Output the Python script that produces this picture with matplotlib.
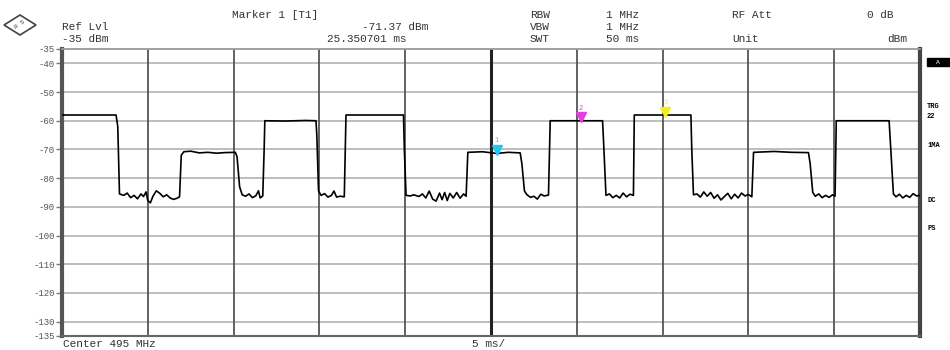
import matplotlib
matplotlib.use("Agg")
import matplotlib.pyplot as plt
from matplotlib.patches import Polygon

# sweep: 0..50 ms, 5 ms/div, ref level -35 dBm
sweep_ms = [0, 50]
ref_range = [-135, -35]
y_ticks = [-35, -40, -50, -60, -70, -80, -90, -100, -110, -120, -130, -135]

# trace (time in ms, level in dBm)
trace_t = [0, 3.15, 3.25, 3.35,
           3.6, 3.8, 4.0, 4.2, 4.4, 4.6, 4.75, 4.9, 5.0, 5.15, 5.3, 5.5, 5.7, 5.9, 6.1, 6.3, 6.5, 6.7, 6.85,
           6.95, 7.1, 7.5, 8.0, 8.5, 9.0, 9.5, 10.1, 10.2, 10.35, 10.5,
           10.7, 10.9, 11.1, 11.3, 11.45, 11.55, 11.7,
           11.78, 11.82, 13.0, 14.2, 14.8, 14.85, 14.95,
           15.1, 15.3, 15.5, 15.7, 15.85, 16.0, 16.2, 16.45,
           16.55, 19.9, 19.95, 20.05,
           20.3, 20.5, 20.8, 21.0, 21.2, 21.4, 21.6, 21.8, 22.0, 22.15, 22.3, 22.45, 22.6, 22.8, 23.0, 23.2, 23.4, 23.55,
           23.65, 24.5, 25.35, 26.0, 26.7, 26.8, 26.95,
           27.1, 27.3, 27.5, 27.7, 27.9, 28.1, 28.35,
           28.45, 31.5, 31.55, 31.7,
           31.9, 32.1, 32.3, 32.5, 32.7, 32.9, 33.1, 33.3,
           33.35, 36.65, 36.7, 36.8,
           37.0, 37.2, 37.4, 37.6, 37.8, 38.0, 38.2, 38.4, 38.6, 38.8, 39.0, 39.2, 39.4, 39.6, 39.8, 40.0, 40.2,
           40.3, 41.5, 42.5, 43.5, 43.6, 43.75,
           43.9, 44.1, 44.3, 44.5, 44.7, 44.9, 45.05,
           45.12, 48.2, 48.3, 48.45,
           48.6, 48.8, 49.0, 49.2, 49.4, 49.6, 49.8, 50.0]
trace_db = [-58.0, -58.0, -62, -85.5,
            -86.0, -85.2, -86.8, -86.0, -87.2, -85.5, -86.4, -84.8, -87.8, -88.6, -86.3, -84.4, -85.3, -86.5, -85.8, -86.9, -87.4, -87.0, -86.5,
            -72, -70.8, -70.6, -71.2, -71.0, -71.3, -71.1, -71.0, -72.5, -83, -85.8,
            -86.3, -85.5, -86.8, -86.1, -84.4, -86.9, -86.2,
            -70, -60.0, -60.1, -59.9, -60.0, -65, -84.5,
            -86.0, -85.4, -86.6, -86.0, -84.5, -86.6, -86.3, -86.5,
            -58.0, -58.0, -70, -86.0,
            -86.2, -85.8, -86.4, -85.5, -86.9, -84.5, -87.3, -88.0, -85.2, -87.5, -85.0, -87.8, -85.3, -86.9, -85.0, -87.0, -85.5, -86.3,
            -71.0, -70.8, -71.4, -71.0, -71.2, -75, -84.5,
            -85.8, -86.7, -86.3, -87.3, -85.6, -86.2, -85.9,
            -60.0, -60.0, -66, -86.0,
            -85.5, -86.8, -86.0, -86.9, -85.2, -86.5, -85.6, -86.0,
            -58.0, -58.0, -70, -85.8,
            -85.5, -86.6, -84.8, -86.3, -85.0, -87.0, -85.8, -87.6, -86.4, -85.3, -87.2, -85.6, -86.9, -85.2, -86.2, -85.7, -86.5,
            -71.0, -70.7, -71.0, -71.1, -75, -85.0,
            -86.3, -85.5, -86.8, -86.0, -86.7, -85.8, -86.3,
            -60.0, -60.0, -70, -85.5,
            -86.5, -85.6, -86.9, -86.0, -86.7, -85.4, -86.2, -86.0]

# markers
marker_names = ['1', '2', '3']
marker_t = [25.35, 30.25, 35.15]
marker_db = [-71.37, -60.0, -58.0]
marker_colors = ['#22c8f0', '#e040e0', '#f0f020']

mono = 'Liberation Mono'
txt = '#333333'

fig = plt.figure(figsize=(9.5, 3.5), dpi=100)
ax = fig.add_axes([62/950, 14/350, 858/950, 287/350])

# grid
for y in y_ticks[1:-1]:
    ax.axhline(y, color='#b8b8b8', lw=1.3, zorder=1)
for i in range(1, 10):
    x = i * 5
    if i == 5:
        ax.axvline(x, color='#222222', lw=2.2, zorder=1)
    else:
        ax.axvline(x, color='#555555', lw=1.3, zorder=1)

ax.plot(trace_t, trace_db, color='black', lw=1.2, zorder=3)

for n, t, d, c in zip(marker_names, marker_t, marker_db, marker_colors):
    ax.plot(t, d + 1.2, marker='v', ms=7, color=c, mec=c, zorder=4)
    ax.text(t, d + 3.2, n, color=c, fontsize=5, ha='center', va='bottom', family=mono, zorder=4)

ax.set_xlim(sweep_ms)
ax.set_ylim(ref_range)
ax.set_xticks([])
ax.set_yticks(y_ticks)
ax.set_yticklabels([str(v) for v in y_ticks], family=mono, fontsize=6.5, color='#555555')
ax.tick_params(axis='y', length=4, width=1, color='#777777', pad=1)

ax.spines['left'].set_linewidth(3)
ax.spines['left'].set_color('#555555')
ax.spines['right'].set_linewidth(3)
ax.spines['right'].set_color('#444444')
ax.spines['top'].set_linewidth(1.3)
ax.spines['top'].set_color('#999999')
ax.spines['bottom'].set_linewidth(1.5)
ax.spines['bottom'].set_color('#666666')

# header text
def ftext(x, y, s, **kw):
    fig.text(x / 950, 1 - y / 350, s, family=mono, fontsize=8, color=txt, va='center', **kw)

ftext(62, 27, 'Ref Lvl')
ftext(62, 39, '-35 dBm')
ftext(232, 15, 'Marker 1 [T1]')
ftext(362, 27, '-71.37 dBm')
ftext(327, 39, '25.350701 ms')
ftext(530, 15, 'RBW')
ftext(530, 27, 'VBW')
ftext(530, 39, 'SWT')
ftext(606, 15, '1 MHz')
ftext(606, 27, '1 MHz')
ftext(606, 39, '50 ms')
ftext(732, 15, 'RF Att')
ftext(732, 39, 'Unit')
ftext(867, 15, '0 dB')
ftext(887, 39, 'dBm')
ftext(63, 344, 'Center 495 MHz')
ftext(472, 344, '5 ms/')

# side labels
fig.patches.append(Polygon([[927/950, 1 - 58/350], [950/950, 1 - 58/350],
                            [950/950, 1 - 66/350], [927/950, 1 - 66/350]],
                           closed=True, transform=fig.transFigure, color='black'))
fig.text(938/950, 1 - 62/350, 'A', family=mono, fontsize=4.5, color='white', ha='center', va='center')
for y, s in [(107, 'TRG'), (117, '22'), (145, '1MA'), (200, 'DC'), (228, 'PS')]:
    fig.text(927/950, 1 - y/350, s, family=mono, fontsize=5, color='black', va='center', weight='bold')

# logo
cx, cy = 20, 25
logo = [[(cx - 16)/950, 1 - cy/350], [cx/950, 1 - (cy - 10)/350],
        [(cx + 16)/950, 1 - cy/350], [cx/950, 1 - (cy + 10)/350]]
fig.patches.append(Polygon(logo, closed=True, transform=fig.transFigure,
                           fill=False, ec='#444444', lw=1.2))
fig.text(cx/950, 1 - cy/350, 'R S', family=mono, fontsize=4.5, color='#444444',
         ha='center', va='center', rotation=35)

fig.savefig('out.png', dpi=100)
